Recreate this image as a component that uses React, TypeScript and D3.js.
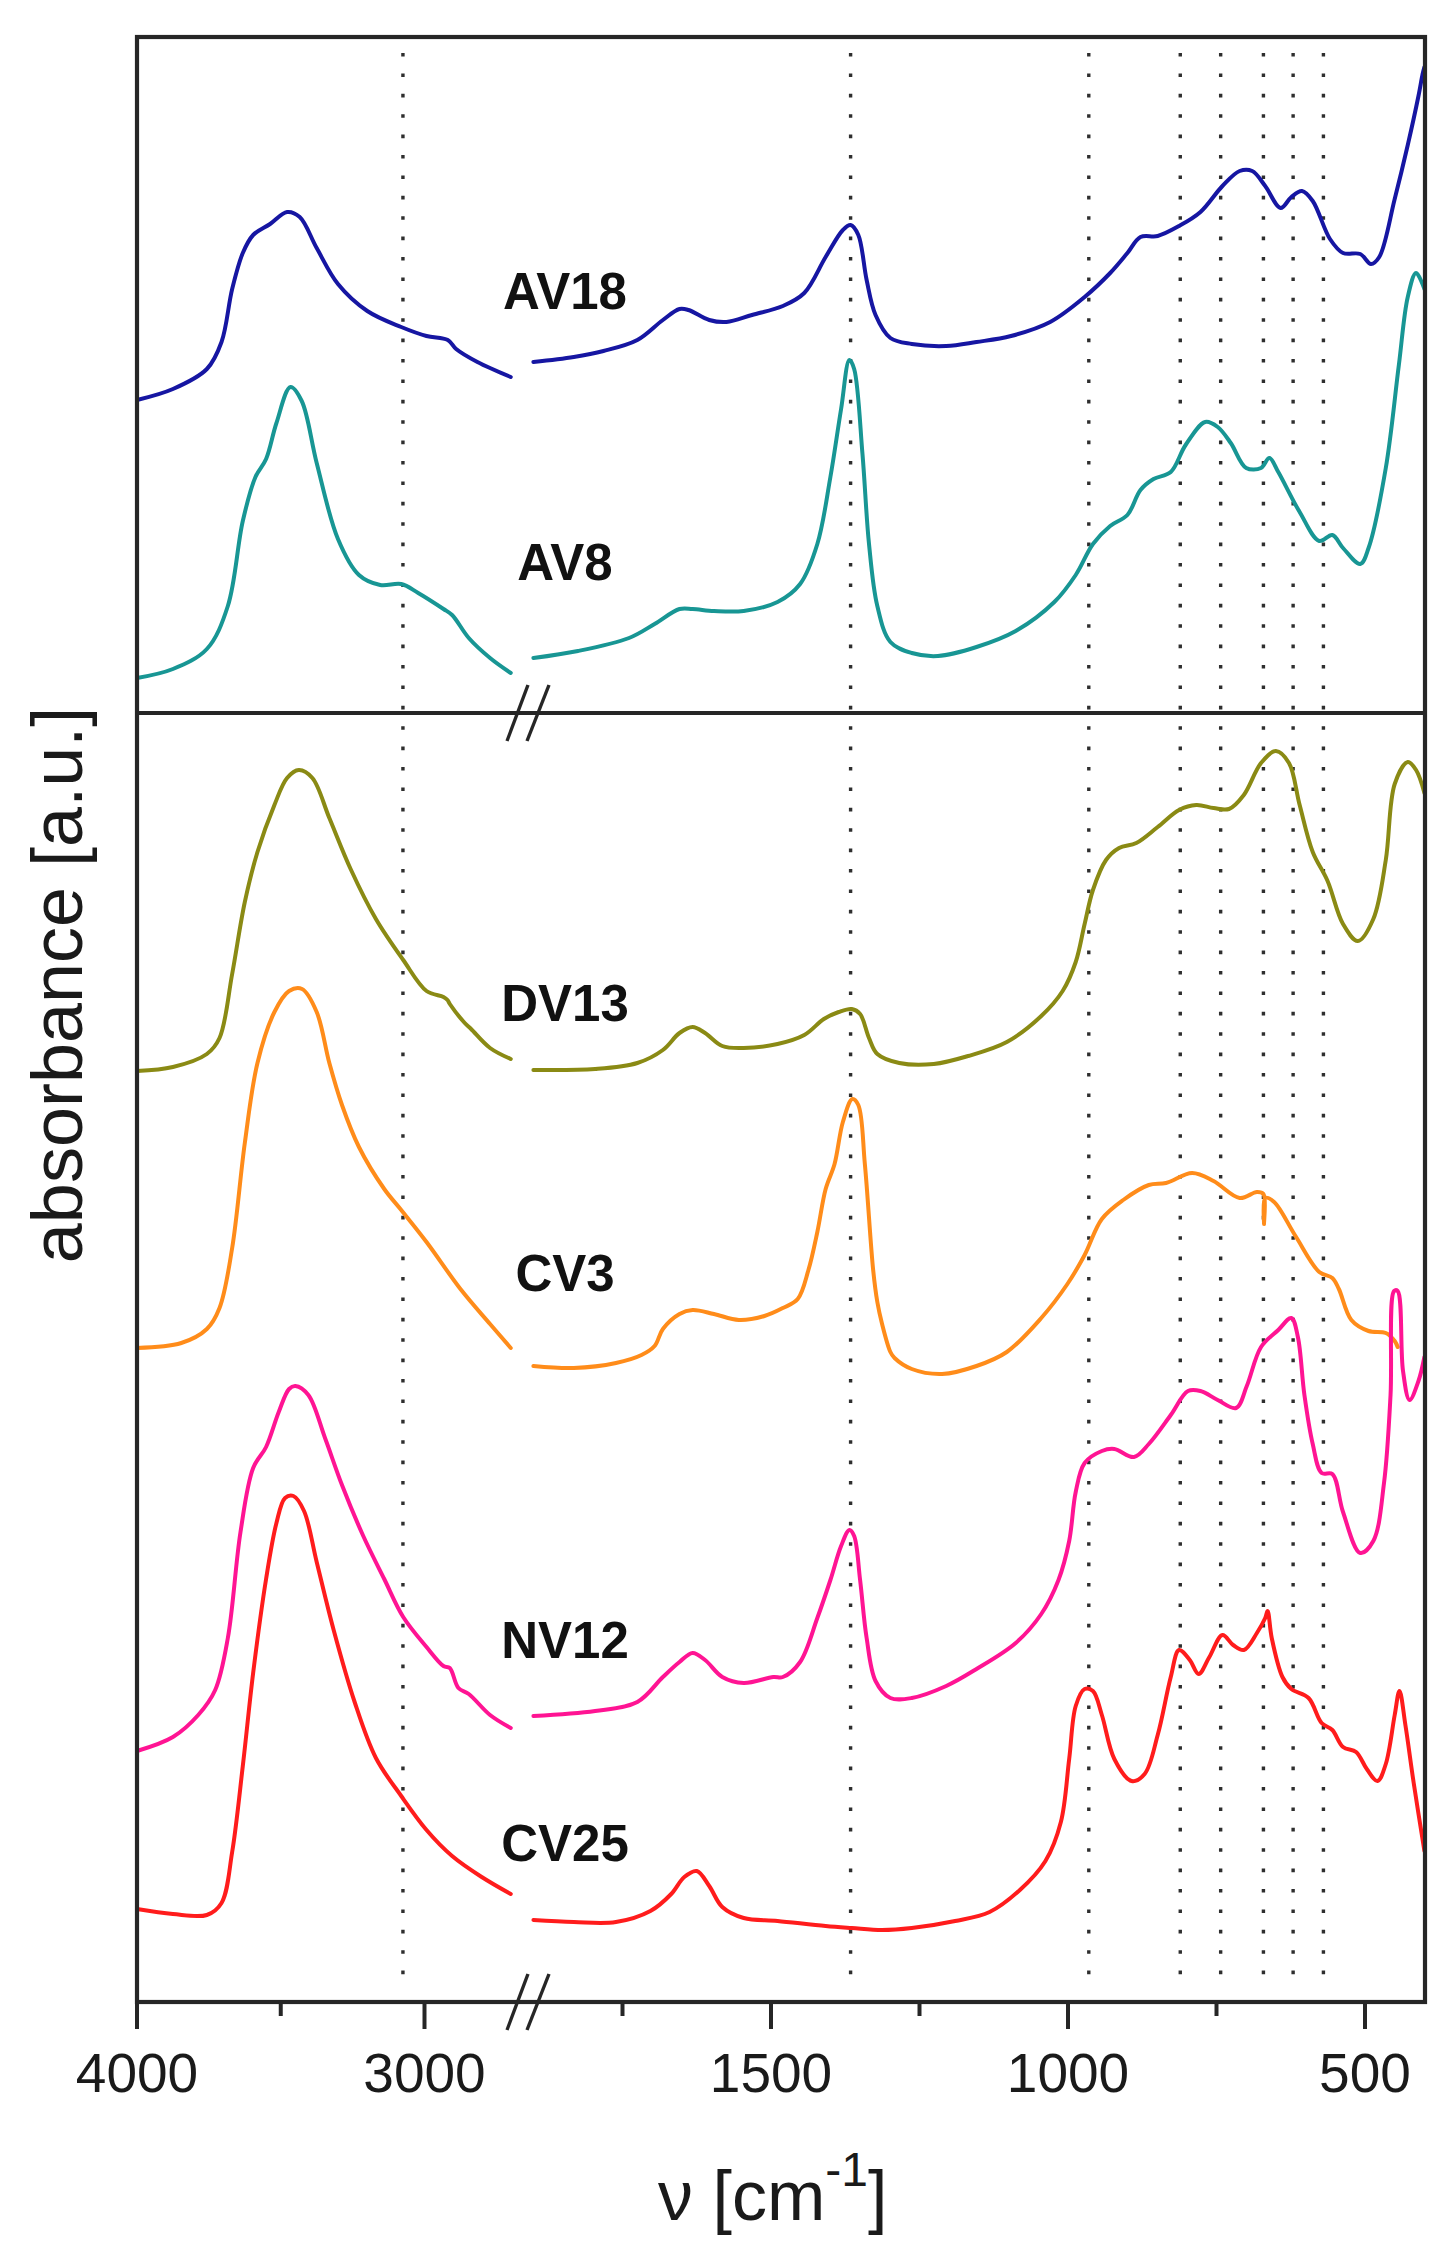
import * as d3 from 'd3';
import { useRef, useEffect } from 'react';

// [wavenumber cm-1, absorbance a.u. as stacked in the figure]
type Pt = [number, number];

const av18Left: Pt[] = [[4000,16.02],[3875,16.13],[3757,16.33],[3706,16.60],[3669,17.13],[3632,17.49],[3596,17.67],[3537,17.78],[3478,17.90],[3434,17.85],[3375,17.54],[3301,17.18],[3199,16.91],[3081,16.75],[2993,16.66],[2919,16.62],[2890,16.53],[2816,16.40],[2700,16.25]];
const av18Right: Pt[] = [[1900,16.40],[1832,16.45],[1782,16.51],[1725,16.62],[1682,16.82],[1654,16.93],[1639,16.92],[1604,16.82],[1575,16.80],[1532,16.87],[1480,16.96],[1444,17.09],[1408,17.45],[1379,17.72],[1366,17.77],[1353,17.67],[1339,17.22],[1324,16.87],[1299,16.64],[1263,16.58],[1205,16.56],[1154,16.60],[1096,16.66],[1030,16.80],[972,17.05],[929,17.29],[900,17.49],[878,17.65],[849,17.66],[813,17.76],[777,17.90],[740,18.16],[711,18.31],[690,18.31],[668,18.16],[642,17.94],[624,18.05],[606,18.11],[588,18.01],[559,17.63],[537,17.49],[508,17.48],[490,17.38],[476,17.45],[450,18.03],[428,18.57],[410,19.06],[403,19.28],[400,19.35]];

const av8Left: Pt[] = [[4000,13.24],[3875,13.33],[3757,13.53],[3684,13.96],[3632,14.81],[3588,15.25],[3551,15.43],[3515,15.79],[3466,16.15],[3427,16.01],[3375,15.39],[3301,14.63],[3228,14.27],[3154,14.17],[3081,14.18],[3022,14.09],[2934,13.93],[2904,13.87],[2846,13.64],[2772,13.44],[2700,13.29]];
const av8Right: Pt[] = [[1900,13.44],[1825,13.51],[1739,13.64],[1696,13.78],[1654,13.93],[1632,13.93],[1596,13.91],[1546,13.91],[1489,14.00],[1451,14.18],[1422,14.58],[1400,15.25],[1382,15.93],[1368,16.42],[1360,16.33],[1346,15.48],[1335,14.58],[1321,13.96],[1299,13.60],[1263,13.49],[1219,13.46],[1154,13.55],[1088,13.71],[1023,14.00],[987,14.27],[958,14.58],[929,14.76],[900,14.87],[878,15.12],[856,15.23],[827,15.30],[802,15.57],[769,15.80],[748,15.75],[726,15.59],[700,15.34],[675,15.34],[661,15.44],[646,15.30],[610,14.90],[577,14.61],[555,14.67],[537,14.54],[508,14.38],[494,14.54],[465,15.34],[443,16.37],[428,17.05],[414,17.29],[400,17.13]];

const dv13Left: Pt[] = [[4000,9.31],[3875,9.35],[3757,9.48],[3713,9.64],[3669,10.28],[3625,11.00],[3581,11.50],[3522,11.97],[3478,12.24],[3437,12.32],[3390,12.24],[3331,11.84],[3257,11.33],[3169,10.83],[3074,10.42],[2993,10.11],[2934,10.05],[2920,10.02],[2912,9.98],[2860,9.79],[2838,9.73],[2772,9.54],[2700,9.43]];
const dv13Right: Pt[] = [[1900,9.32],[1796,9.33],[1725,9.39],[1682,9.52],[1654,9.69],[1632,9.75],[1611,9.69],[1582,9.56],[1546,9.54],[1489,9.58],[1444,9.67],[1411,9.83],[1386,9.90],[1364,9.93],[1350,9.88],[1335,9.64],[1321,9.48],[1284,9.39],[1226,9.38],[1168,9.46],[1103,9.60],[1045,9.86],[1009,10.11],[987,10.40],[972,10.78],[958,11.12],[936,11.42],[914,11.54],[885,11.59],[849,11.75],[813,11.92],[784,11.97],[755,11.94],[729,11.93],[704,12.07],[675,12.39],[650,12.51],[628,12.39],[610,11.97],[588,11.50],[563,11.21],[537,10.78],[512,10.61],[486,10.83],[465,11.42],[450,12.18],[428,12.40],[414,12.32],[400,12.09]];

const cv3Left: Pt[] = [[4000,6.54],[3846,6.59],[3757,6.73],[3713,6.94],[3669,7.54],[3625,8.59],[3581,9.39],[3522,9.90],[3471,10.11],[3426,10.13],[3375,9.90],[3331,9.39],[3287,8.97],[3228,8.55],[3140,8.13],[3081,7.92],[2993,7.60],[2875,7.13],[2772,6.78],[2700,6.54]];
const cv3Right: Pt[] = [[1900,6.36],[1832,6.34],[1761,6.39],[1718,6.47],[1696,6.56],[1682,6.73],[1654,6.88],[1632,6.92],[1596,6.88],[1554,6.82],[1511,6.86],[1480,6.94],[1455,7.03],[1437,7.32],[1422,7.70],[1408,8.13],[1393,8.38],[1379,8.80],[1363,9.03],[1353,8.97],[1342,8.38],[1328,7.32],[1321,7.00],[1313,6.78],[1299,6.50],[1292,6.44],[1263,6.33],[1212,6.28],[1154,6.36],[1103,6.50],[1045,6.84],[1001,7.18],[972,7.47],[943,7.83],[907,8.02],[864,8.17],[835,8.19],[791,8.29],[755,8.21],[711,8.04],[682,8.10],[671,8.08],[670,7.78],[668,8.04],[653,8.00],[617,7.66],[577,7.30],[555,7.24],[544,7.13],[523,6.82],[494,6.71],[465,6.69],[450,6.61],[445,6.55]];

const nv12Left: Pt[] = [[4000,2.51],[3875,2.65],[3787,2.87],[3728,3.12],[3684,3.64],[3640,4.70],[3596,5.34],[3551,5.55],[3507,5.90],[3471,6.13],[3449,6.16],[3404,6.07],[3346,5.64],[3287,5.17],[3213,4.66],[3140,4.23],[3074,3.85],[2993,3.55],[2934,3.36],[2912,3.34],[2882,3.14],[2846,3.08],[2772,2.87],[2700,2.74]];
const nv12Right: Pt[] = [[1900,2.86],[1796,2.91],[1725,3.00],[1682,3.25],[1654,3.40],[1632,3.49],[1611,3.42],[1582,3.25],[1546,3.19],[1496,3.25],[1480,3.25],[1451,3.40],[1422,3.84],[1400,4.22],[1382,4.56],[1368,4.72],[1360,4.66],[1350,4.22],[1339,3.64],[1324,3.21],[1299,3.04],[1263,3.04],[1205,3.16],[1154,3.33],[1088,3.59],[1045,3.88],[1016,4.22],[998,4.61],[987,5.10],[972,5.39],[943,5.51],[922,5.53],[889,5.45],[864,5.58],[827,5.87],[798,6.11],[777,6.11],[748,6.02],[717,5.94],[699,6.16],[675,6.55],[646,6.72],[624,6.84],[613,6.65],[602,6.07],[588,5.58],[573,5.29],[555,5.28],[537,4.90],[508,4.49],[486,4.61],[468,5.19],[457,6.07],[451,7.11],[445,7.11],[436,6.31],[425,6.02],[410,6.21],[400,6.45]];

const cv25Left: Pt[] = [[4000,0.93],[3875,0.88],[3757,0.87],[3706,0.99],[3669,1.50],[3632,2.36],[3596,3.29],[3551,4.23],[3515,4.79],[3485,5.04],[3456,5.06],[3419,4.91],[3375,4.40],[3316,3.72],[3243,3.00],[3169,2.44],[3081,2.06],[2993,1.72],[2904,1.46],[2801,1.25],[2700,1.08]];
const cv25Right: Pt[] = [[1900,0.82],[1832,0.80],[1761,0.80],[1703,0.91],[1668,1.08],[1646,1.25],[1625,1.31],[1604,1.16],[1582,0.95],[1546,0.84],[1489,0.81],[1408,0.76],[1364,0.74],[1313,0.72],[1263,0.74],[1190,0.81],[1132,0.90],[1081,1.12],[1038,1.41],[1012,1.80],[998,2.43],[987,2.96],[972,3.13],[958,3.11],[943,2.87],[922,2.43],[893,2.21],[871,2.28],[849,2.67],[827,3.25],[813,3.52],[795,3.42],[780,3.28],[762,3.45],[740,3.67],[722,3.57],[704,3.52],[682,3.69],[668,3.84],[664,3.91],[657,3.64],[639,3.25],[624,3.13],[595,3.04],[573,2.79],[555,2.72],[537,2.55],[515,2.50],[497,2.33],[479,2.21],[465,2.38],[450,2.87],[442,3.11],[432,2.77],[418,2.19],[400,1.51]];

const sampleNames = ['AV18', 'AV8', 'DV13', 'CV3', 'NV12', 'CV25'];
const sampleColors = ['#1616a2', '#189694', '#8a8a14', '#ff8c1a', '#ff1493', '#ff1c1c'];
const labelLevels = [16.93, 14.22, 9.81, 7.11, 3.44, 1.41];

// marked band positions [cm-1]
const bandLines = [3075, 1366, 965, 811, 743, 671, 621, 570];

const majorTicksLeft = [4000, 3000];
const minorTicksLeft = [3500];
const majorTicksRight = [1500, 1000, 500];
const minorTicksRight = [1750, 1250, 750];

const W = 1449;
const H = 2258;
const FONT = "'Liberation Sans', Arial, sans-serif";

const App = () => {
  const ref = useRef<SVGSVGElement>(null);

  useEffect(() => {
    document.body.style.margin = '0';
    if (!ref.current) return;
    const svg = d3.select(ref.current).attr('width', W).attr('height', H);
    svg.selectAll('*').remove();

    const left = 137, right = 1425, top = 37, mid = 713, bottom = 2002;

    const xLeft = d3.scaleLinear().domain([4000, 2700]).range([137, 510.75]);
    const xRight = d3.scaleLinear().domain([1900, 400]).range([533.4, 1424.4]);
    const y = d3.scaleLinear().domain([0, 19.65]).range([bottom, top]);

    svg.append('rect').attr('width', W).attr('height', H).attr('fill', '#fff');

    // dotted band markers
    svg.selectAll('line.band')
      .data(bandLines)
      .enter()
      .append('line')
      .attr('class', 'band')
      .attr('x1', d => (d > 2000 ? xLeft(d) : xRight(d)))
      .attr('x2', d => (d > 2000 ? xLeft(d) : xRight(d)))
      .attr('y1', top + 16)
      .attr('y2', bottom - 14)
      .attr('stroke', '#2e2e2e')
      .attr('stroke-width', 3.4)
      .attr('stroke-dasharray', '3.6 16.8');

    const curve = d3.curveCatmullRom.alpha(0.5);
    const lineL = d3.line<Pt>().x(d => xLeft(d[0])).y(d => y(d[1])).curve(curve);
    const lineR = d3.line<Pt>().x(d => xRight(d[0])).y(d => y(d[1])).curve(curve);

    const segments = [
      [av18Left, av18Right], [av8Left, av8Right], [dv13Left, dv13Right],
      [cv3Left, cv3Right], [nv12Left, nv12Right], [cv25Left, cv25Right],
    ];

    segments.forEach(([l, r], i) => {
      const g = svg.append('g')
        .attr('fill', 'none')
        .attr('stroke', sampleColors[i])
        .attr('stroke-width', 4)
        .attr('stroke-linejoin', 'round')
        .attr('stroke-linecap', 'round');
      g.append('path').attr('d', lineL(l));
      g.append('path').attr('d', lineR(r));
    });

    // sample labels
    svg.selectAll('text.sample')
      .data(sampleNames)
      .enter()
      .append('text')
      .attr('class', 'sample')
      .attr('x', 565)
      .attr('y', (_, i) => y(labelLevels[i]))
      .attr('text-anchor', 'middle')
      .attr('font-family', FONT)
      .attr('font-weight', 'bold')
      .attr('font-size', 51)
      .attr('fill', '#111')
      .text(d => d);

    // frame
    const frame = svg.append('g').attr('stroke', '#262626').attr('stroke-width', 4.2).attr('fill', 'none');
    frame.append('rect').attr('x', left).attr('y', top).attr('width', right - left).attr('height', bottom - top);
    frame.append('line').attr('x1', left).attr('x2', right).attr('y1', mid).attr('y2', mid);

    // ticks
    const ticks = svg.append('g').attr('stroke', '#262626').attr('stroke-width', 4);
    const addTicks = (vals: number[], sc: d3.ScaleLinear<number, number>, len: number) => {
      ticks.selectAll(null)
        .data(vals)
        .enter()
        .append('line')
        .attr('x1', d => sc(d))
        .attr('x2', d => sc(d))
        .attr('y1', bottom)
        .attr('y2', bottom + len);
    };
    addTicks(majorTicksLeft, xLeft, 27);
    addTicks(majorTicksRight, xRight, 27);
    addTicks(minorTicksLeft, xLeft, 14);
    addTicks(minorTicksRight, xRight, 14);

    const tickLabels = [
      ...majorTicksLeft.map(v => ({ v, x: xLeft(v) })),
      ...majorTicksRight.map(v => ({ v, x: xRight(v) })),
    ];
    svg.selectAll('text.tick')
      .data(tickLabels)
      .enter()
      .append('text')
      .attr('class', 'tick')
      .attr('x', d => d.x)
      .attr('y', 2092)
      .attr('text-anchor', 'middle')
      .attr('font-family', FONT)
      .attr('font-size', 55)
      .attr('fill', '#1a1a1a')
      .text(d => d.v);

    // axis break marks
    const brk = svg.append('g').attr('stroke', '#262626').attr('stroke-width', 3.4);
    [mid, bottom].forEach(cy => {
      [[507, 528], [527, 549]].forEach(([xb, xt]) => {
        brk.append('line').attr('x1', xb).attr('y1', cy + 28).attr('x2', xt).attr('y2', cy - 28);
      });
    });

    // axis titles
    const xt = svg.append('text')
      .attr('x', 658)
      .attr('y', 2220)
      .attr('font-family', FONT)
      .attr('font-size', 70)
      .attr('fill', '#1a1a1a');
    xt.append('tspan').text('ν [cm');
    xt.append('tspan').attr('dy', -34).attr('font-size', 48).text('-1');
    xt.append('tspan').attr('dy', 34).text(']');

    svg.append('text')
      .attr('transform', 'translate(82,985) rotate(-90)')
      .attr('text-anchor', 'middle')
      .attr('font-family', FONT)
      .attr('font-size', 72)
      .attr('fill', '#1a1a1a')
      .text('absorbance [a.u.]');
  }, []);

  return <svg ref={ref} style={{ display: 'block' }}></svg>;
};

export default App;
